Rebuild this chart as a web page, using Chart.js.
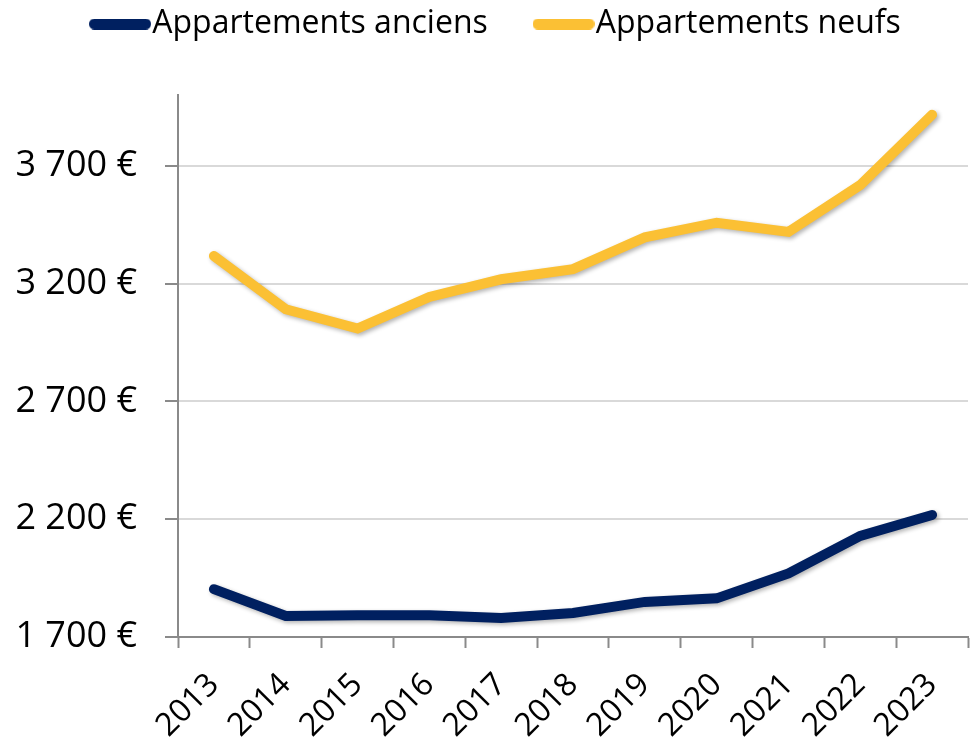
<!DOCTYPE html>
<html><head><meta charset="utf-8">
<script src="https://cdn.jsdelivr.net/npm/chart.js@4.4.0/dist/chart.umd.min.js"></script>
<style>html,body{margin:0;padding:0;background:#fff;} #wrap{width:973px;height:750px;position:relative;}</style>
</head><body><div id="wrap"><canvas id="c"></canvas></div>
<script>
const categories = ['2013','2014','2015','2016','2017','2018','2019','2020','2021','2022','2023'];
const anciens = [1903,1789,1792,1792,1781,1802,1849,1864,1970,2129,2218];
const neufs = [3317,3091,3009,3143,3218,3261,3396,3458,3419,3618,3916];
const yTicks = [1700,2200,2700,3200,3700];
const seriesNames = ['Appartements anciens','Appartements neufs'];
const seriesColors = ['#002060','#FBC034'];

function fmt(v){ return String(v).replace(/\B(?=(\d{3})+(?!\d))/g,' ') + ' €'; }

function markerCanvas(color){
  const w = 62, h = 11;
  const c = document.createElement('canvas'); c.width = w; c.height = h;
  const x = c.getContext('2d'); x.strokeStyle = color; x.lineWidth = h; x.lineCap = 'round';
  x.beginPath(); x.moveTo(h/2,h/2); x.lineTo(w-h/2,h/2); x.stroke();
  return c;
}

const shadowPlugin = {
  id:'shadow',
  beforeDatasetDraw(chart){ const ctx = chart.ctx; ctx.save(); ctx.shadowColor='rgba(0,0,0,0.3)'; ctx.shadowBlur=4; ctx.shadowOffsetX=2; ctx.shadowOffsetY=2; },
  afterDatasetDraw(chart){ chart.ctx.restore(); }
};

const legendFix = {
  id:'legendFix',
  beforeUpdate(chart){
    const l = chart.legend;
    if (l && !l._fixed){
      const f = l.fit.bind(l);
      l.fit = function(){ f(); this.height = 95; };
      const d = l.draw.bind(l);
      l.draw = function(){ const ctx = this.ctx; ctx.save(); ctx.translate(44.3,-51.5); d(); ctx.restore(); };
      l._fixed = true;
    }
  }
};

new Chart(document.getElementById('c'), {
  type:'line',
  data:{
    labels: categories,
    datasets:[
      {label: seriesNames[0], data: anciens, borderColor: seriesColors[0], backgroundColor: seriesColors[0], borderWidth:10, borderCapStyle:'round', pointRadius:0, tension:0},
      {label: seriesNames[1], data: neufs, borderColor: seriesColors[1], backgroundColor: seriesColors[1], borderWidth:10, borderCapStyle:'round', pointRadius:0, tension:0}
    ]
  },
  options:{
    responsive:true, maintainAspectRatio:false, animation:false,
    layout:{padding:{left:0,right:5,top:0,bottom:0}},
    plugins:{
      tooltip:{enabled:false},
      legend:{
        position:'top', align:'start',
        labels:{
          usePointStyle:true, pointStyleWidth:32.5, padding:59.5, color:'#000',
          font:{family:'Open Sans', size:32},
          generateLabels(chart){
            return chart.data.datasets.map((ds,i)=>({text:ds.label, fillStyle:ds.borderColor, strokeStyle:ds.borderColor, lineWidth:0, pointStyle:markerCanvas(ds.borderColor), hidden:false, datasetIndex:i, fontColor:'#000'}));
          }
        }
      }
    },
    scales:{
      x:{
        type:'category', offset:true,
        grid:{offset:true, drawOnChartArea:false, drawTicks:true, tickLength:11, tickColor:'#8a8a8a', tickWidth:2},
        border:{color:'#8a8a8a', width:2},
        ticks:{minRotation:45, maxRotation:45, autoSkip:false, color:'#000', font:{family:'Open Sans', size:32}, padding:18},
        afterFit(s){ s.height = 113; s.paddingLeft = 0; s.paddingRight = 0; }
      },
      y:{
        min:1700, max:4000,
        grid:{color:'#d9d9d9', lineWidth:2, tickLength:13, tickColor:'#8a8a8a', tickWidth:2},
        border:{color:'#8a8a8a', width:2},
        ticks:{color:'#000', font:{family:'Open Sans', size:36}, padding:28, callback:(v)=>fmt(v)},
        afterBuildTicks(s){ s.ticks = yTicks.map(v=>({value:v})); },
        afterFit(s){ s.width = 178; s.paddingTop = 0; s.paddingBottom = 0; }
      }
    }
  },
  plugins:[shadowPlugin, legendFix]
});
</script></body></html>
